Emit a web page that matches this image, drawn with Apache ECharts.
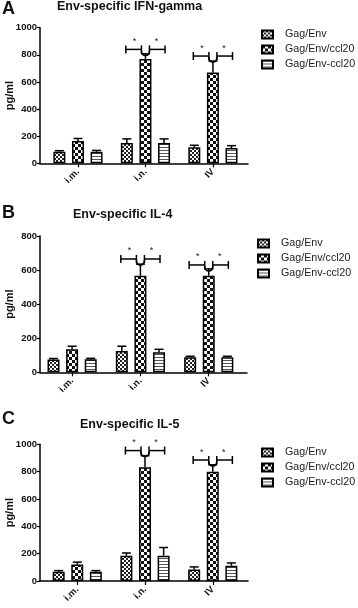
<!DOCTYPE html>
<html>
<head>
<meta charset="utf-8">
<script src="https://cdn.jsdelivr.net/npm/echarts@6/dist/echarts.min.js"></script>
<style>
html,body{margin:0;padding:0;background:#fff;}
#chart{width:358px;height:608px;}
</style>
</head>
<body>
<div id="chart"></div>
<script>
// ---------- data ----------
const categories = ['i.m.', 'i.n.', 'IV'];
const seriesNames = ['Gag/Env', 'Gag/Env/ccl20', 'Gag/Env-ccl20'];
const panelTitles = ['Env-specific IFN-gamma', 'Env-specific IL-4', 'Env-specific IL-5'];
const panelLetters = ['A', 'B', 'C'];
const yMaxes = [1000, 800, 1000];
const yTickStep = 200;

// Panel A: IFN-gamma
const ifnGagEnv = [85, 150, 118];
const ifnGagEnvCcl20 = [165, 770, 670];
const ifnGagEnvDashCcl20 = [85, 150, 112];
const ifnErrGagEnv = [8, 30, 15];
const ifnErrGagEnvCcl20 = [18, 38, 84];
const ifnErrGagEnvDashCcl20 = [10, 30, 18];
const ifnSigLevels = [840, 791];

// Panel B: IL-4
const il4GagEnv = [75, 125, 88];
const il4GagEnvCcl20 = [135, 567, 567];
const il4GagEnvDashCcl20 = [76, 117, 88];
const il4ErrGagEnv = [6, 28, 6];
const il4ErrGagEnvCcl20 = [18, 68, 40];
const il4ErrGagEnvDashCcl20 = [6, 18, 6];
const il4SigLevels = [665, 630];

// Panel C: IL-5
const il5GagEnv = [68, 185, 85];
const il5GagEnvCcl20 = [120, 832, 800];
const il5GagEnvDashCcl20 = [68, 185, 112];
const il5ErrGagEnv = [8, 20, 18];
const il5ErrGagEnvCcl20 = [18, 85, 50];
const il5ErrGagEnvDashCcl20 = [8, 60, 20];
const il5SigLevels = [954, 885];

const sigCategoryIndex = [1, 2];

// ---------- layout / style ----------
const FONT = '"Liberation Sans", Arial, sans-serif';
const panels = [
  { values: [ifnGagEnv, ifnGagEnvCcl20, ifnGagEnvDashCcl20], errors: [ifnErrGagEnv, ifnErrGagEnvCcl20, ifnErrGagEnvDashCcl20], sig: ifnSigLevels,
    grid: { left: 40, top: 27.7, width: 208, height: 135.6 }, xMin: -0.563, xMax: 2.52,
    titleTop: 0.5, titleLeft: 57, letterTop: 0, legendLeft: 261, legendTop: 29 },
  { values: [il4GagEnv, il4GagEnvCcl20, il4GagEnvDashCcl20], errors: [il4ErrGagEnv, il4ErrGagEnvCcl20, il4ErrGagEnvDashCcl20], sig: il4SigLevels,
    grid: { left: 40, top: 236, width: 207, height: 136.3 }, xMin: -0.47, xMax: 2.56,
    titleTop: 208, titleLeft: 73, letterTop: 204, legendLeft: 257, legendTop: 238 },
  { values: [il5GagEnv, il5GagEnvCcl20, il5GagEnvDashCcl20], errors: [il5ErrGagEnv, il5ErrGagEnvCcl20, il5ErrGagEnvDashCcl20], sig: il5SigLevels,
    grid: { left: 40, top: 444.3, width: 208, height: 136.7 }, xMin: -0.55, xMax: 2.52,
    titleTop: 418, titleLeft: 80, letterTop: 410, legendLeft: 261, legendTop: 447 }
];

const BAR_W = 12;
const BAR_GAP = 0.55;
const BAR_STEP = BAR_W * (1 + BAR_GAP);

function makePattern(kind) {
  const c = document.createElement('canvas');
  let ctx;
  if (kind === 'fine') {
    c.width = 4; c.height = 4; ctx = c.getContext('2d');
    ctx.fillStyle = '#fff'; ctx.fillRect(0, 0, 4, 4);
    ctx.fillStyle = '#222'; ctx.fillRect(0, 0, 2, 2); ctx.fillRect(2, 2, 2, 2);
  } else if (kind === 'coarse') {
    c.width = 6; c.height = 6; ctx = c.getContext('2d');
    ctx.fillStyle = '#fff'; ctx.fillRect(0, 0, 6, 6);
    ctx.fillStyle = '#111'; ctx.fillRect(0, 0, 3, 3); ctx.fillRect(3, 3, 3, 3);
  } else {
    c.width = 4; c.height = 3; ctx = c.getContext('2d');
    ctx.fillStyle = '#fff'; ctx.fillRect(0, 0, 4, 3);
    ctx.fillStyle = '#555'; ctx.fillRect(0, 0, 4, 1);
  }
  return { image: c, repeat: 'repeat' };
}
const patterns = [makePattern('fine'), makePattern('coarse'), makePattern('stripe')];

const option = {
  backgroundColor: '#fff',
  animation: false,
  title: [], grid: [], xAxis: [], yAxis: [], legend: [], series: []
};

panels.forEach((p, i) => {
  option.title.push({ text: panelTitles[i], left: p.titleLeft, top: p.titleTop, padding: 0,
    textStyle: { fontFamily: FONT, fontSize: 12.5, fontWeight: 'bold', color: '#111' } });
  option.title.push({ text: panelLetters[i], left: 2, top: p.letterTop, padding: 0,
    textStyle: { fontFamily: FONT, fontSize: 18, fontWeight: 'bold', color: '#111' } });
  option.grid.push(Object.assign({ containLabel: false, outerBoundsMode: 'none' }, p.grid));
  option.xAxis.push({
    type: 'value', gridIndex: i, min: p.xMin, max: p.xMax,
    axisLine: { show: true, onZero: false, lineStyle: { color: '#000', width: 1.5 } },
    axisTick: { show: true, customValues: [0, 1, 2], length: 4, lineStyle: { color: '#000', width: 1.2 } },
    axisLabel: { customValues: [0, 1, 2], rotate: 45, margin: 7, formatter: v => categories[Math.round(v)],
      fontFamily: FONT, fontSize: 9.5, fontWeight: 'bold', color: '#111' },
    splitLine: { show: false }
  });
  option.yAxis.push({
    type: 'value', gridIndex: i, min: 0, max: yMaxes[i], interval: yTickStep,
    name: 'pg/ml', nameLocation: 'middle', nameGap: 25, nameMoveOverlap: false,
    nameTextStyle: { fontFamily: FONT, fontSize: 11, fontWeight: 'bold', color: '#111' },
    axisLine: { show: true, onZero: false, lineStyle: { color: '#000', width: 1.5 } },
    axisTick: { show: true, length: 3, lineStyle: { color: '#000', width: 1.2 } },
    axisLabel: { margin: 3, formatter: v => String(v), fontFamily: FONT, fontSize: 9.5, fontWeight: 'bold', color: '#111' },
    splitLine: { show: false }
  });
  option.legend.push({
    data: seriesNames, orient: 'vertical', left: p.legendLeft, top: p.legendTop, padding: 0,
    itemWidth: 11, itemHeight: 8, itemGap: 4, icon: 'rect', selectedMode: false,
    textStyle: { fontFamily: FONT, fontSize: 10.7, color: '#222', padding: [0, 0, 0, 7] }
  });
  p.values.forEach((vals, s) => {
    option.series.push({
      type: 'bar', name: seriesNames[s], xAxisIndex: i, yAxisIndex: i,
      data: vals.map((v, k) => [k, v]),
      barWidth: BAR_W, barGap: (BAR_GAP * 100) + '%',
      itemStyle: { color: patterns[s], borderColor: '#000', borderWidth: 1.5 },
      z: 2
    });
  });
  p.values.forEach((vals, s) => {
    const off = (s - 1) * BAR_STEP;
    option.series.push({
      type: 'custom', xAxisIndex: i, yAxisIndex: i, z: 3,
      data: vals.map((v, k) => [k, v, p.errors[s][k]]),
      renderItem: function (params, api) {
        const x = api.value(0), v = api.value(1), e = api.value(2);
        const b = api.coord([x, v]);
        const t = api.coord([x, v + e]);
        const cx = b[0] + off;
        const st = { stroke: '#000', lineWidth: 1.5 };
        return { type: 'group', children: [
          { type: 'line', shape: { x1: cx, y1: b[1], x2: cx, y2: t[1] }, style: st },
          { type: 'line', shape: { x1: cx - 4.5, y1: t[1], x2: cx + 4.5, y2: t[1] }, style: st }
        ] };
      }
    });
  });
  option.series.push({
    type: 'custom', xAxisIndex: i, yAxisIndex: i, z: 4,
    data: sigCategoryIndex.map((c, k) => [c, p.sig[k]]),
    renderItem: function (params, api) {
      const pt = api.coord([api.value(0), api.value(1)]);
      const xc = pt[0], y = pt[1];
      const L = xc - BAR_STEP - 1, R = xc + BAR_STEP + 1, a = 4, h = 4;
      const st = { stroke: '#000', lineWidth: 1.5, fill: null };
      const ch = [
        { type: 'line', shape: { x1: L, y1: y, x2: xc - a, y2: y }, style: st },
        { type: 'line', shape: { x1: xc + a, y1: y, x2: R, y2: y }, style: st },
        { type: 'line', shape: { x1: L, y1: y - h, x2: L, y2: y + h }, style: st },
        { type: 'line', shape: { x1: R, y1: y - h, x2: R, y2: y + h }, style: st },
        { type: 'line', shape: { x1: xc - a, y1: y - h, x2: xc - a, y2: y + h }, style: st },
        { type: 'line', shape: { x1: xc + a, y1: y - h, x2: xc + a, y2: y + h }, style: st },
        { type: 'path', shape: { pathData: `M${xc - a} ${y + 1}Q${xc - a} ${y + 6} ${xc} ${y + 6}Q${xc + a} ${y + 6} ${xc + a} ${y + 1}` }, style: st },
        { type: 'text', style: { x: xc - 11, y: y - 8, text: '*', fontSize: 9, fontFamily: FONT, fill: '#222', align: 'center', verticalAlign: 'middle' } },
        { type: 'text', style: { x: xc + 11, y: y - 8, text: '*', fontSize: 9, fontFamily: FONT, fill: '#222', align: 'center', verticalAlign: 'middle' } }
      ];
      return { type: 'group', children: ch };
    }
  });
});

const chart = echarts.init(document.getElementById('chart'), null, { renderer: 'canvas' });
chart.setOption(option);
</script>
</body>
</html>
